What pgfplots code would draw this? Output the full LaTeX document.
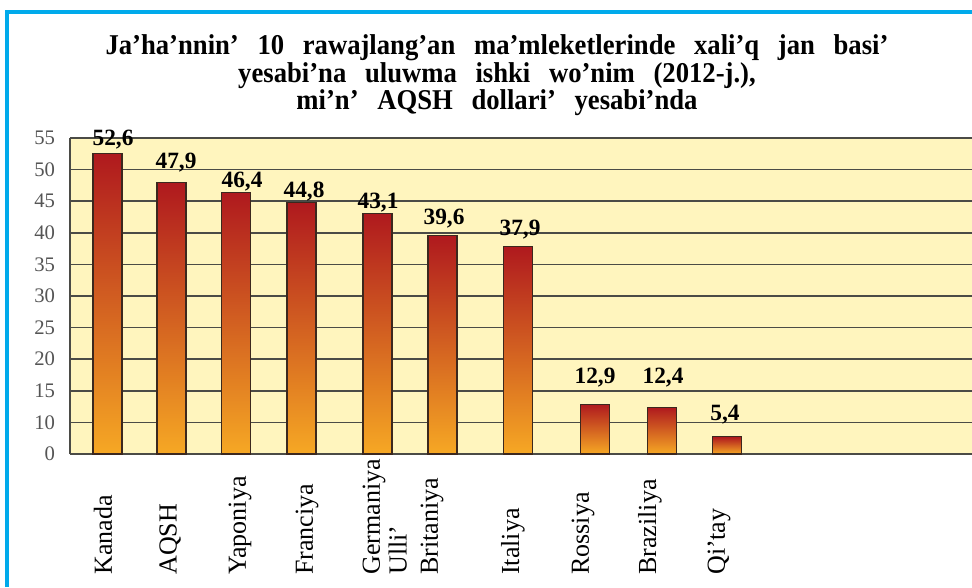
\documentclass[border=0pt]{standalone}
\usepackage{fontspec}
\setmainfont{Liberation Serif}
\newfontfamily\titlefont[FakeStretch=0.93,WordSpace=2.8]{Liberation Serif}
\usepackage{pgfplots}
\pgfplotsset{compat=1.18}
\definecolor{framec}{RGB}{0,170,235}
\definecolor{plotbg}{RGB}{255,245,190}
\definecolor{gridc}{RGB}{75,75,70}
\definecolor{bartop}{RGB}{175,25,30}
\definecolor{barmid}{RGB}{212,95,38}
\definecolor{barbot}{RGB}{246,168,36}
\definecolor{tickc}{RGB}{85,85,85}
\definecolor{barline}{RGB}{60,40,30}
\pgfplotsset{onebar/.style={ybar, bar shift=0pt, draw=barline, line width=0.8pt, top color=bartop, middle color=barmid, bottom color=barbot}}
\begin{document}
\begin{tikzpicture}
\useasboundingbox (0,0) rectangle (729pt,440.25pt);
\fill[white] (0,0) rectangle (729pt,440.25pt);
\begin{axis}[
  at={(52.5pt,99.75pt)}, anchor=south west,
  scale only axis, width=676.5pt, height=237pt,
  xmin=70, xmax=972, ymin=0, ymax=55,
  y coord trafo/.code={\pgfmathparse{#1<=10 ? #1/2 : #1-5}},
  y coord inv trafo/.code={\pgfmathparse{#1<=5 ? #1*2 : #1+5}},
  ytick={0,10,15,20,25,30,35,40,45,50,55},
  ymajorgrids, grid style={gridc, line width=1.2pt},
  axis background/.style={fill=plotbg},
  axis y line*=left, axis x line*=bottom,
  axis line style={-, gridc, line width=1.2pt},
  major tick length=0pt,
  xtick={103,170,240,307,374,416,513,583,650,719},
  xticklabels={Kanada,AQSH,Yaponiya,Franciya,Germaniya,{Ulli’\\Britaniya},Italiya,Rossiya,Braziliya,Qi’tay},
  xticklabel style={yshift=-90.75pt, rotate=90, anchor=west, inner sep=0pt, align=left, font=\fontsize{19.5}{23.5}\selectfont},
  yticklabel style={inner sep=0pt, xshift=-11pt, text=tickc, font=\fontsize{15.5}{18}\selectfont},
  /pgf/number format/assume math mode=true,
  bar width=29,
]
\addplot[onebar] coordinates {(107.5,52.6)};
\addplot[onebar] coordinates {(171.5,47.9)};
\addplot[onebar] coordinates {(236,46.4)};
\addplot[onebar] coordinates {(301.5,44.8)};
\addplot[onebar] coordinates {(377.5,43.1)};
\addplot[onebar] coordinates {(442.5,39.6)};
\addplot[onebar] coordinates {(518,37.9)};
\addplot[onebar] coordinates {(595,12.9)};
\addplot[onebar] coordinates {(662,12.4)};
\addplot[onebar] coordinates {(727,5.4)};
\end{axis}
% bar value labels
\begin{scope}[every node/.style={anchor=base, inner sep=0pt, font=\fontsize{17.5}{20}\selectfont\bfseries}]
\node at (84.75pt,330.75pt) {52,6};
\node at (132pt,313.5pt) {47,9};
\node at (181.5pt,300pt) {46,4};
\node at (228pt,292.5pt) {44,8};
\node at (283.5pt,284.25pt) {43,1};
\node at (333pt,272.25pt) {39,6};
\node at (390pt,264pt) {37,9};
\node at (446.25pt,153pt) {12,9};
\node at (497.25pt,153pt) {12,4};
\node at (543.75pt,125.25pt) {5,4};
\end{scope}
% title
\begin{scope}[every node/.style={anchor=base, inner sep=0pt, font=\titlefont\bfseries\fontsize{21.5}{24}\selectfont}]
\node at (372.75pt,399pt) {Ja’ha’nnin’ 10 rawajlang’an ma’mleketlerinde xali’q jan basi’};
\node at (372.75pt,378pt) {yesabi’na uluwma ishki wo’nim (2012-j.),};
\node at (372.75pt,357.75pt) {mi’n’ AQSH dollari’ yesabi’nda};
\end{scope}
% frame
\draw[framec, line width=2.4pt] (5.25pt,0pt) -- (5.25pt,431.25pt) -- (729pt,431.25pt);
\end{tikzpicture}
\end{document}
